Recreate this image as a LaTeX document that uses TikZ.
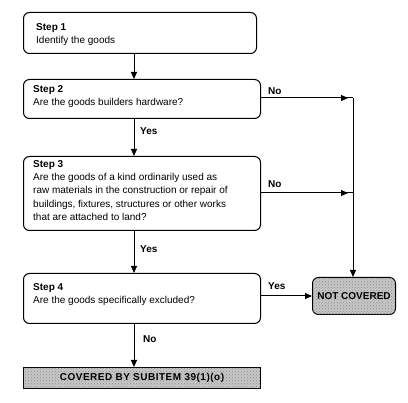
\documentclass[tikz,border=0pt]{standalone}
\usepackage{fontspec}
\setmainfont{Liberation Sans}
\usetikzlibrary{arrows.meta,patterns}
\begin{document}
\begin{tikzpicture}[x=1pt,y=-1pt,
  font=\fontsize{10}{13.4}\selectfont,
  stepbox/.style={draw, line width=1pt, rounded corners=6pt, anchor=north west, inner sep=0pt},
  endbox/.style={draw, line width=1pt, fill=black!22, postaction={pattern=crosshatch dots, pattern color=black!45}, anchor=north west, inner sep=0pt, font=\fontsize{10}{12}\selectfont\bfseries},
  steptext/.style={anchor=north west, inner sep=0pt, align=left},
  lbl/.style={anchor=west, inner sep=0pt, font=\fontsize{10}{12}\selectfont\bfseries},
  conn/.style={line width=1pt},
  arr/.style={line width=1pt, -{Triangle[length=7pt,width=6pt]}}
]
\useasboundingbox (0,0) rectangle (408,403);

% boxes
\node[stepbox, minimum width=233pt, minimum height=41pt] (b1) at (23,12) {};
\node[stepbox, minimum width=237pt, minimum height=39pt] (b2) at (23,79) {};
\node[stepbox, minimum width=237pt, minimum height=74pt] (b3) at (23,156) {};
\node[stepbox, minimum width=237pt, minimum height=50pt] (b4) at (23,273) {};
\node[endbox, minimum width=237pt, minimum height=21pt] (cov) at (23,367) {\addfontfeature{LetterSpace=5}COVERED BY SUBITEM 39(1)(o)};
\node[endbox, rounded corners=6pt, minimum width=83pt, minimum height=37pt] (nc) at (312,277) {NOT COVERED};

% texts
\node[steptext] (t1) at (36,23) {\textbf{Step 1}\\Identify the goods};
\node[steptext] (t2) at (33,85) {\textbf{Step 2}\\Are the goods builders hardware?};
\node[steptext] (t3) at (33,160) {\textbf{Step 3}\\Are the goods of a kind ordinarily used as\\raw materials in the construction or repair of\\buildings, fixtures, structures or other works\\that are attached to land?};
\node[steptext] (t4) at (33,283) {\textbf{Step 4}\\Are the goods specifically excluded?};

% helper coordinates
\coordinate (ax) at (134,0);
\coordinate (j1) at (353,98);
\coordinate (j2) at (353,193);

% vertical arrows
\draw[arr] (b1.south -| ax) -- (b2.north -| ax);
\draw[arr] (b2.south -| ax) -- (b3.north -| ax);
\draw[arr] (b3.south -| ax) -- (b4.north -| ax);
\draw[arr] (b4.south -| ax) -- (cov.north -| ax);

% No branches
\draw[conn] (b2.east |- j1) -- (j1);
\draw[arr, shorten >=5pt] (b2.east |- j1) -- (j1);
\draw[conn] (b3.east |- j2) -- (j2);
\draw[arr, shorten >=5pt] (b3.east |- j2) -- (j2);
\draw[arr] (j1) -- (j1 |- nc.north);
\draw[arr] (b4.east |- nc.west) -- (nc.west);

% labels
\node[lbl] (l1) at (140,131) {Yes};
\node[lbl] (l2) at (140,249) {Yes};
\node[lbl] (l3) at (143,339) {No};
\node[lbl] (l4) at (268,91) {No};
\node[lbl] (l5) at (268,184) {No};
\node[lbl] (l6) at (268,286) {Yes};
\end{tikzpicture}
\end{document}
